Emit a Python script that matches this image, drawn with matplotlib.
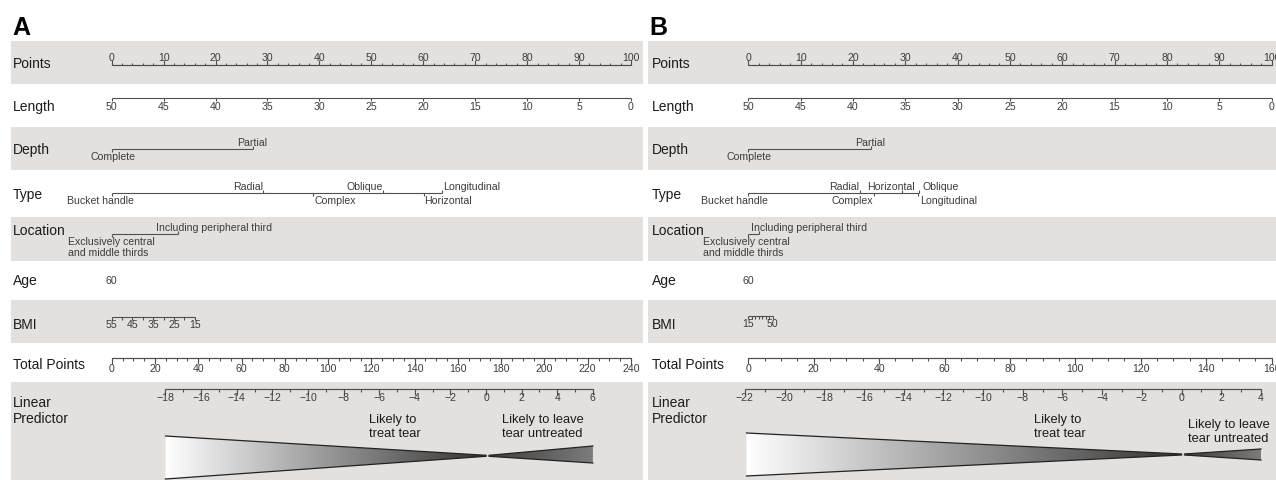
import numpy as np
import matplotlib.pyplot as plt
from matplotlib.path import Path
from matplotlib.patches import PathPatch
from matplotlib.colors import LinearSegmentedColormap

plt.rcParams['font.family'] = ['Liberation Sans', 'DejaVu Sans']

# ---------------- data ----------------
# panel A
a_length_labels = [50, 45, 40, 35, 30, 25, 20, 15, 10, 5, 0]
a_length_points = [0, 10, 20, 30, 40, 50, 60, 70, 80, 90, 100]
a_depth = ['Complete', 'Partial']
a_depth_points = [0, 27.2]
a_type = ['Bucket handle', 'Radial', 'Complex', 'Oblique', 'Horizontal', 'Longitudinal']
a_type_points = [0, 29.2, 38.8, 52.3, 60.2, 63.6]
a_location = ['Exclusively central\nand middle thirds', 'Including peripheral third']
a_location_points = [0, 12.7]
a_age = ['60']
a_age_points = [0]
a_bmi_ticks = [55, 50, 45, 40, 35, 30, 25, 20, 15]
a_bmi_points = [0, 2, 4, 6, 8, 10, 12, 14, 16]
a_bmi_labels = [55, 45, 35, 25, 15]
a_total_max = 240
a_lp_min, a_lp_max = -18, 6
a_lp_zero_total = 173.0     # total points where linear predictor = 0
a_lp_unit_total = 8.23      # total points per unit of linear predictor

# panel B
b_length_labels = [50, 45, 40, 35, 30, 25, 20, 15, 10, 5, 0]
b_length_points = [0, 10, 20, 30, 40, 50, 60, 70, 80, 90, 100]
b_depth = ['Complete', 'Partial']
b_depth_points = [0, 23.4]
b_type = ['Bucket handle', 'Radial', 'Complex', 'Horizontal', 'Oblique', 'Longitudinal']
b_type_points = [0, 21.4, 24.1, 29.3, 32.7, 32.5]
b_location = ['Exclusively central\nand middle thirds', 'Including peripheral third']
b_location_points = [0, 2.0]
b_age = ['60']
b_age_points = [0]
b_bmi_ticks = [15, 20, 25, 30, 35, 40, 45, 50]
b_bmi_points = [0, 0.66, 1.33, 2.0, 2.66, 3.33, 4.0, 4.66]
b_bmi_labels = [15, 50]
b_total_max = 160
b_lp_min, b_lp_max = -22, 4
b_lp_zero_total = 132.5
b_lp_unit_total = 6.07

# ---------------- layout (pixels) ----------------
W, H = 1276, 481
BAND = '#e4e0dd'
LINE = '#505050'
TICKC = '#3c3c3c'
DARK = '#1c1c1c'
bands = [(42, 85), (128, 171), (218, 262), (301, 344), (383, 482)]
rows = {'Points': 67.7, 'Length': 111, 'Depth': 154, 'Type': 199.3, 'Location': 235,
        'Age': 285, 'BMI': 329.3, 'Total Points': 369}

fig = plt.figure(figsize=(W / 100, H / 100), dpi=100)


def make_panel(left, right, zero_px, hundred_px):
    ax = fig.add_axes([left / W, 0, (right - left) / W, 1])
    ppp = (hundred_px - zero_px) / 100
    ax.set_xlim((left - zero_px) / ppp, (right - zero_px) / ppp)
    ax.set_ylim(H, 0)
    ax.axis('off')
    for y0, y1 in bands:
        ax.axhspan(y0, y1, color=BAND, lw=0, zorder=0)
    return ax, ppp


def scale(ax, pos, y, side, ticklen, labels=None, label_pos=None, gap=3):
    ax.plot([min(pos), max(pos)], [y, y], color=LINE, lw=0.8, solid_capstyle='butt')
    s = -1 if side == 'up' else 1
    ax.vlines(pos, y, y + s * ticklen, colors=LINE, lw=0.8)
    if labels is not None:
        for p, t in zip(label_pos, labels):
            ax.text(p, y + s * gap, t, ha='center', va='bottom' if side == 'up' else 'top',
                    fontsize=7.6, color=TICKC)


def categories(ax, ppp, pts, names, y, styles):
    ax.plot([min(pts), max(pts)], [y, y], color=LINE, lw=0.8, solid_capstyle='butt')
    for p, n, (side, ha, dx) in zip(pts, names, styles):
        s = -1 if side == 'up' else 1
        ax.vlines(p, y, y + s * 3, colors=LINE, lw=0.8)
        ax.text(p + dx / ppp, y - 2.3 if side == 'up' else y + 2.5, n, ha=ha,
                va='bottom' if side == 'up' else 'top', fontsize=7.6, color=TICKC,
                linespacing=1.05)


def wedge(ax, x0, x1, ys0, ys1, c0, c1):
    verts = [(x0, ys0[0]), (x1, ys1[0]), (x1, ys1[1]), (x0, ys0[1]), (x0, ys0[0])]
    patch = PathPatch(Path(verts), facecolor='none', edgecolor='none')
    ax.add_patch(patch)
    cmap = LinearSegmentedColormap.from_list('g', [c0, c1])
    grad = np.linspace(0, 1, 256).reshape(1, -1)
    im = ax.imshow(grad, cmap=cmap, extent=[x0, x1, max(ys0 + ys1), min(ys0 + ys1)],
                   aspect='auto', zorder=2, interpolation='bilinear')
    im.set_clip_path(patch)
    ax.plot([x0, x1], [ys0[0], ys1[0]], color='#222222', lw=0.9, zorder=3)
    ax.plot([x0, x1], [ys0[1], ys1[1]], color='#222222', lw=0.9, zorder=3)


def fmt(v):
    return str(v).replace('-', '\u2212')


def panel(left, right, zero_px, hundred_px, d, letter):
    ax, ppp = make_panel(left, right, zero_px, hundred_px)
    xlim = ax.get_xlim()
    # points
    scale(ax, np.arange(0, 101, 2), 65.7, 'up', 2.2)
    scale(ax, np.arange(0, 101, 10), 65.7, 'up', 4.5, [str(v) for v in range(0, 101, 10)],
          np.arange(0, 101, 10), gap=3)
    # length
    scale(ax, d['length_points'], 99.3, 'down', 3, [str(v) for v in d['length_labels']],
          d['length_points'], gap=2.8)
    categories(ax, ppp, d['depth_points'], d['depth'], 150, d['depth_style'])
    categories(ax, ppp, d['type_points'], d['type'], 194, d['type_style'])
    categories(ax, ppp, d['location_points'], d['location'], 235, d['location_style'])
    for p, t in zip(d['age_points'], d['age']):
        ax.text(p, 281, t, ha='center', va='center', fontsize=7.6, color=TICKC)
    # BMI
    bmi_pos = dict(zip(d['bmi_ticks'], d['bmi_points']))
    scale(ax, d['bmi_points'], d['bmi_y'], 'down', 3.2, [str(v) for v in d['bmi_labels']],
          [bmi_pos[v] for v in d['bmi_labels']], gap=2.8)
    # total points
    tmax = d['total_max']
    tp = 100.0 / tmax
    scale(ax, np.arange(0, tmax + 1, 5) * tp, 359.3, 'down', 3)
    scale(ax, np.arange(0, tmax + 1, 20) * tp, 359.3, 'down', 5.5,
          [str(v) for v in range(0, tmax + 1, 20)], np.arange(0, tmax + 1, 20) * tp, gap=4.5)
    # linear predictor

    def lp2x(v):
        return (d['lp_zero'] + np.asarray(v, dtype=float) * d['lp_unit']) * tp
    lmin, lmax = d['lp_range']
    scale(ax, lp2x(np.arange(lmin, lmax + 1, 1)), 390, 'down', 3)
    scale(ax, lp2x(np.arange(lmin, lmax + 1, 2)), 390, 'down', 5.5,
          [fmt(v) for v in range(lmin, lmax + 1, 2)], lp2x(np.arange(lmin, lmax + 1, 2)), gap=3.5)
    wl = d['wedge']
    wedge(ax, lp2x(lmin + wl[0]), lp2x(0), wl[1], wl[2], '#ffffff', '#333333')
    wedge(ax, lp2x(wl[3]), lp2x(lmax), wl[4], wl[5], '#3e3e3e', '#7c7c7c')
    ax.set_xlim(xlim)
    ax.set_ylim(H, 0)
    # row names
    for name, yb in rows.items():
        fig.text((left + d['name_dx']) / W, 1 - yb / H, name, fontsize=10, color=DARK,
                 ha='left', va='baseline')
    fig.text((left + d['name_dx']) / W, 1 - 406.7 / H, 'Linear', fontsize=10,
             color=DARK, ha='left', va='baseline')
    fig.text((left + d['name_dx']) / W, 1 - 423.5 / H, 'Predictor', fontsize=10,
             color=DARK, ha='left', va='baseline')
    fig.text((left + 1) / W, 1 - 35 / H, letter, fontsize=18, fontweight='bold',
             color='black', ha='left', va='baseline')
    for x, yt, txt in d['notes']:
        fig.text(x / W, 1 - yt / H, txt, fontsize=9.3, color=DARK, ha='left', va='top',
                 linespacing=1.2)


A = dict(length_points=a_length_points, length_labels=a_length_labels,
         depth=a_depth, depth_points=a_depth_points,
         depth_style=[('down', 'center', 1), ('up', 'center', -1)],
         type=a_type, type_points=a_type_points,
         type_style=[('down', 'center', -11), ('up', 'right', 0), ('down', 'left', 1),
                     ('up', 'right', 0), ('down', 'left', 0), ('up', 'left', 1)],
         location=a_location, location_points=a_location_points,
         location_style=[('down', 'left', -43.7), ('up', 'left', -21.7)],
         age=a_age, age_points=a_age_points,
         bmi_ticks=a_bmi_ticks, bmi_points=a_bmi_points, bmi_labels=a_bmi_labels, bmi_y=317.7,
         total_max=a_total_max, lp_range=(a_lp_min, a_lp_max),
         lp_zero=a_lp_zero_total, lp_unit=a_lp_unit_total,
         wedge=(0, (437, 480), (456.3, 457.3), 0.17, (456.3, 457.3), (447, 464)),
         name_dx=2,
         notes=[(369, 414, 'Likely to\ntreat tear'),
                (501.7, 414, 'Likely to leave\ntear untreated')])

B = dict(length_points=b_length_points, length_labels=b_length_labels,
         depth=b_depth, depth_points=b_depth_points,
         depth_style=[('down', 'center', 1), ('up', 'center', -1)],
         type=b_type, type_points=b_type_points,
         type_style=[('down', 'center', -13.5), ('up', 'right', -1), ('down', 'right', -1),
                     ('up', 'right', 13), ('up', 'left', 3), ('down', 'left', 2)],
         location=b_location, location_points=b_location_points,
         location_style=[('down', 'left', -45.7), ('up', 'left', -8)],
         age=b_age, age_points=b_age_points,
         bmi_ticks=b_bmi_ticks, bmi_points=b_bmi_points, bmi_labels=b_bmi_labels, bmi_y=316.7,
         total_max=b_total_max, lp_range=(b_lp_min, b_lp_max),
         lp_zero=b_lp_zero_total, lp_unit=b_lp_unit_total,
         wedge=(0.08, (434, 477), (455, 456), 0.15, (455, 456), (450, 461)),
         name_dx=3.7,
         notes=[(1034, 414, 'Likely to\ntreat tear'),
                (1187.7, 419, 'Likely to leave\ntear untreated')])

panel(11, 643, 111.7, 631, A, 'A')
panel(648, 1276, 748.3, 1271.5, B, 'B')

fig.savefig('out.png', dpi=100)
